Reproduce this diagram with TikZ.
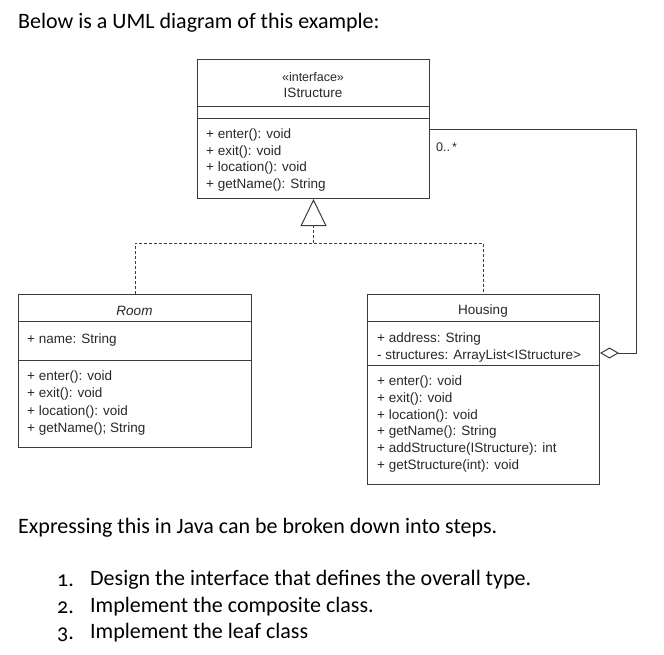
\documentclass[tikz,border=0pt]{standalone}
\usepackage{fontspec}
\setmainfont{Carlito}
\newfontfamily\umlfont{Liberation Sans}
\usetikzlibrary{arrows.meta,positioning}
\definecolor{umlline}{RGB}{60,60,60}
\definecolor{umltext}{RGB}{40,40,40}

\begin{document}
\begin{tikzpicture}[x=1pt, y=-1pt,
    umlbox/.style={draw=umlline, line width=1pt, anchor=north west, inner sep=0pt},
    umlname/.style={text=umltext, inner sep=0pt, font=\umlfont\fontsize{13.5}{16.8}\selectfont},
    members/.style={umlname, anchor=west, align=left},
    prose/.style={anchor=west, inner sep=0pt, font=\fontsize{22}{26}\selectfont},
    listnum/.style={prose, font=\fontsize{22}{26}\selectfont\addfontfeatures{Numbers=OldStyle}}]
  \useasboundingbox[fill=white] (0,0) rectangle (664,654);

  \node[prose] (intro) at (18,23) {Below is a UML diagram of this example:};

  % interface
  \node[umlbox, minimum width=232pt, minimum height=139pt] (istruct) at (197,59) {};
  \node[umlname, font=\umlfont\fontsize{12.5}{15}\selectfont] (istereo) at (313,77) {«interface»};
  \node[umlname] (iname) at (313,93) {IStructure};
  \draw[umlline, line width=1pt] (istruct.west |- 0,106) -- (istruct.east |- 0,106);
  \draw[umlline, line width=1pt] (istruct.west |- 0,118) -- (istruct.east |- 0,118);
  \node[members] (imeth) at (206,160)
    {+ enter(): void\\+ exit(): void\\+ location(): void\\+ getName(): String};

  % leaf
  \node[umlbox, minimum width=233pt, minimum height=153pt] (room) at (18,294) {};
  \node[umlname, font=\umlfont\itshape\fontsize{13.5}{16.8}\selectfont] (rname) at (134.5,311) {Room};
  \draw[umlline, line width=1pt] (room.west |- 0,321) -- (room.east |- 0,321);
  \node[members] (rattr) at (27,340) {+ name: String};
  \draw[umlline, line width=1pt] (room.west |- 0,360) -- (room.east |- 0,360);
  \node[members, font=\umlfont\fontsize{13.5}{17.3}\selectfont] (rmeth) at (27,403)
    {+ enter(): void\\+ exit(): void\\+ location(): void\\+ getName(); String};

  % composite
  \node[umlbox, minimum width=232pt, minimum height=190pt] (housing) at (367,294) {};
  \node[umlname] (hname) at (483,311) {Housing};
  \draw[umlline, line width=1pt] (housing.west |- 0,321) -- (housing.east |- 0,321);
  \node[members] (hattr) at (377,347.5)
    {+ address: String\\- structures: ArrayList<IStructure>};
  \draw[umlline, line width=1pt] (housing.west |- 0,365) -- (housing.east |- 0,365);
  \node[members] (hmeth) at (377,424)
    {+ enter(): void\\+ exit(): void\\+ location(): void\\+ getName(): String\\%
     + addStructure(IStructure): int\\+ getStructure(int): void};

  % realization
  \coordinate (split) at (istruct.south |- 0,243);
  \draw[umlline, line width=1pt, dash pattern=on 3pt off 2pt] (room.north) |- (split) -| (housing.north);
  \draw[umlline, line width=1pt, dash pattern=on 3pt off 2pt,
        -{Triangle[open, length=27pt, width=26pt]}] (split) -- (istruct.south);

  % aggregation
  \coordinate (hagg) at (housing.east |- 0,353);
  \draw[umlline, line width=1pt, {Diamond[open, length=19pt, width=11pt]}-]
    (hagg) -- ++(36,0) |- (istruct.east);
  \node[umlname, font=\umlfont\fontsize{12.5}{15}\selectfont, anchor=west] (mult) at (436,147) {0..\,*};

  \node[prose] (expr) at (18,528) {Expressing this in Java can be broken down into steps.};
  \node[listnum] (n1) at (57,581) {1.};
  \node[prose] (s1) at (90,580) {Design the interface that defines the overall type.};
  \node[listnum] (n2) at (57,608) {2.};
  \node[prose] (s2) at (90,607) {Implement the composite class.};
  \node[listnum] (n3) at (57,635) {3.};
  \node[prose] (s3) at (90,633) {Implement the leaf class};
\end{tikzpicture}
\end{document}
